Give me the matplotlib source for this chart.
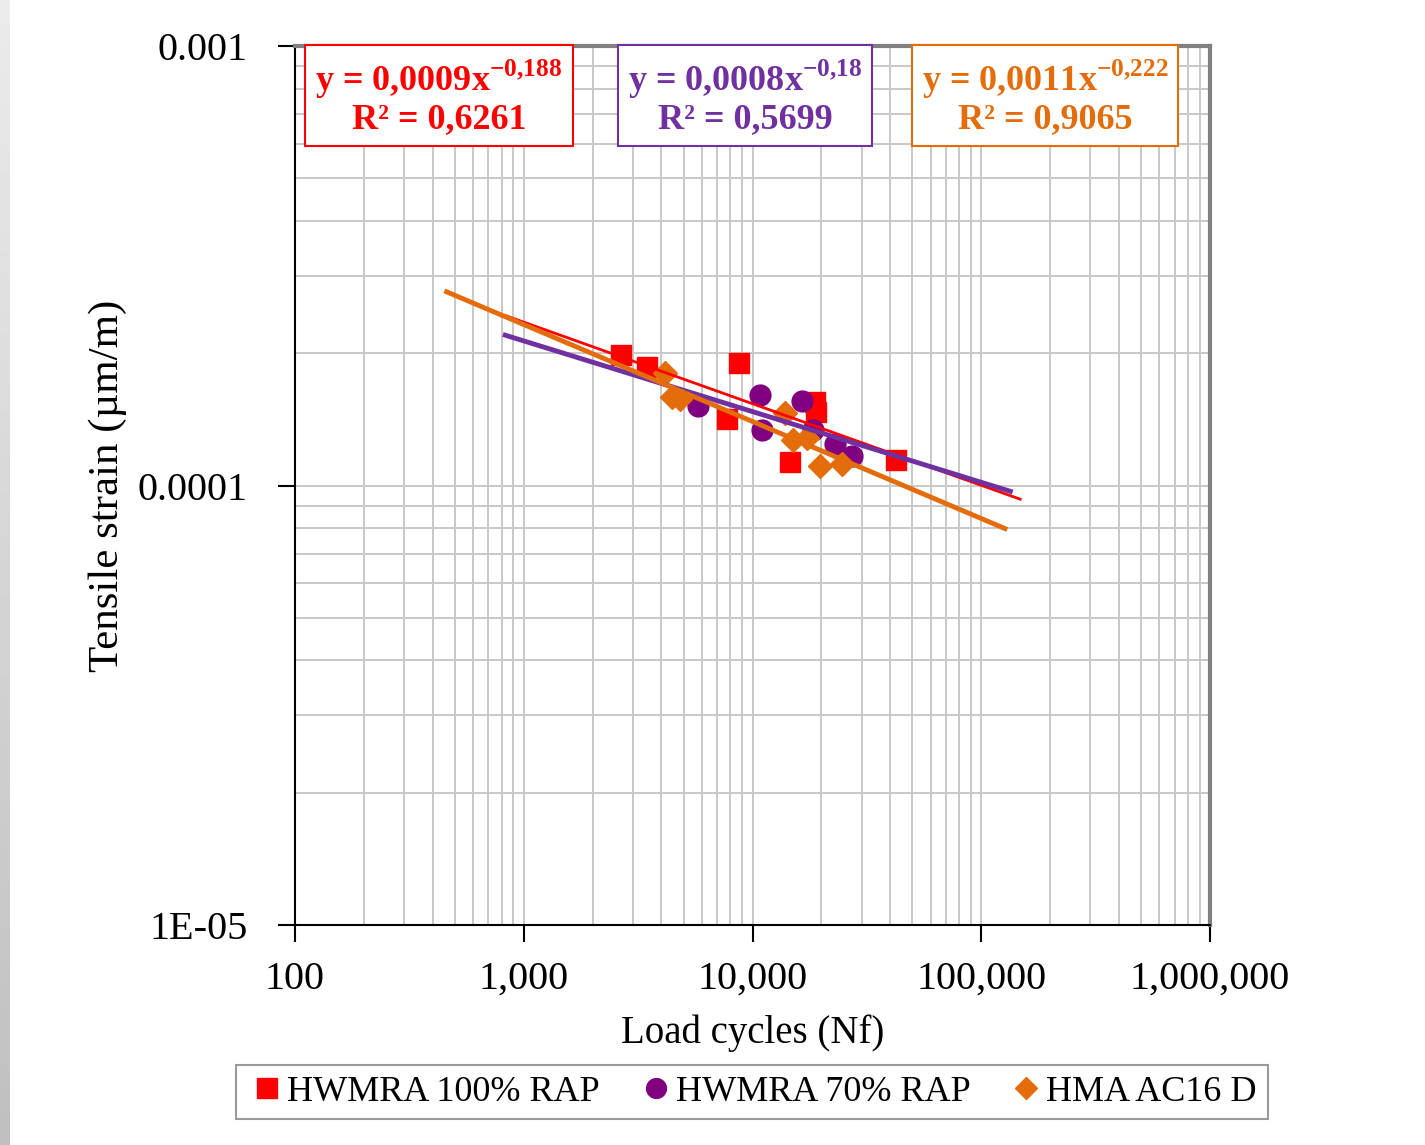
import numpy as np
import matplotlib
matplotlib.use('Agg')
import matplotlib.pyplot as plt
from matplotlib.ticker import FixedLocator, LogLocator, NullFormatter

plt.rcParams['font.family'] = ['Liberation Serif', 'DejaVu Serif']
plt.rcParams['mathtext.fontset'] = 'custom'
plt.rcParams['mathtext.rm'] = 'Liberation Serif'
plt.rcParams['mathtext.bf'] = 'Liberation Serif:bold'

# data
rap100_n = [2660, 3450, 8750, 7710, 14600, 18800, 19000, 42400]
rap100_eps = [1.98e-4, 1.86e-4, 1.90e-4, 1.415e-4, 1.13e-4, 1.55e-4, 1.47e-4, 1.14e-4]

rap70_n = [5800, 10800, 11000, 16400, 18400, 23000, 27200]
rap70_eps = [1.52e-4, 1.61e-4, 1.34e-4, 1.56e-4, 1.34e-4, 1.24e-4, 1.17e-4]

hma_n = [4150, 4440, 4820, 13900, 15000, 17300, 19700, 24600]
hma_eps = [1.80e-4, 1.59e-4, 1.57e-4, 1.46e-4, 1.27e-4, 1.28e-4, 1.11e-4, 1.12e-4]

# trendline extents (load cycles)
rap100_trend = (830, 148000)
rap70_trend = (830, 134000)
hma_trend = (460, 127000)

eq_texts = [r"y = 0,0009x$^{\mathbf{-0{,}188}}$" + "\n" + "R² = 0,6261",
            r"y = 0,0008x$^{\mathbf{-0{,}18}}$" + "\n" + "R² = 0,5699",
            r"y = 0,0011x$^{\mathbf{-0{,}222}}$" + "\n" + "R² = 0,9065"]

x_ticks = [100, 1000, 10000, 100000, 1000000]
x_labels = ["100", "1,000", "10,000", "100,000", "1,000,000"]
y_ticks = [1e-5, 1e-4, 1e-3]
y_labels = ["1E-05", "0.0001", "0.001"]

red = '#ff0000'
purple_m = '#800080'
purple_l = '#7030a0'
orange = '#e46c0a'

fig = plt.figure(figsize=(14.25, 11.45), dpi=100)

# gray strip at the left edge
strip = fig.add_axes([0, 0, 10 / 1425, 1])
strip.imshow(np.linspace(0.92, 0.75, 100).reshape(-1, 1), cmap='gray', vmin=0, vmax=1,
             aspect='auto', extent=[0, 1, 0, 1])
strip.axis('off')

ax = fig.add_axes([295 / 1425, 1 - 925 / 1145, 915 / 1425, 879 / 1145])
ax.set_xscale('log')
ax.set_yscale('log')
ax.set_xlim(100, 1e6)
ax.set_ylim(1e-5, 1e-3)

ax.grid(True, which='both', color='#c8c8c8', linewidth=1.4)
ax.set_axisbelow(True)

ax.plot(rap100_n, rap100_eps, 's', color=red, ms=15, ls='none', label='HWMRA 100% RAP', zorder=3)
ax.plot(rap70_n, rap70_eps, 'o', color=purple_m, ms=15, ls='none', label='HWMRA 70% RAP', zorder=3)
ax.plot(hma_n, hma_eps, 'D', color=orange, ms=12, ls='none', label='HMA AC16 D', zorder=3)


def power_trend(n, eps, ext):
    b, loga = np.polyfit(np.log(n), np.log(eps), 1)
    xs = np.logspace(np.log10(ext[0]), np.log10(ext[1]), 50)
    return xs, np.exp(loga) * xs ** b


xs, ys = power_trend(rap100_n, rap100_eps, rap100_trend)
ax.plot(xs, ys, color=red, lw=2, zorder=4)
xs, ys = power_trend(rap70_n, rap70_eps, rap70_trend)
ax.plot(xs, ys, color=purple_l, lw=3.5, zorder=4)
xs, ys = power_trend(hma_n, hma_eps, hma_trend)
ax.plot(xs, ys, color=orange, lw=3.5, zorder=4)

ax.xaxis.set_major_locator(FixedLocator(x_ticks))
ax.set_xticklabels(x_labels)
ax.yaxis.set_major_locator(FixedLocator(y_ticks))
ax.set_yticklabels(y_labels)
ax.xaxis.set_minor_locator(LogLocator(base=10, subs=np.arange(2, 10)))
ax.yaxis.set_minor_locator(LogLocator(base=10, subs=np.arange(2, 10)))
ax.xaxis.set_minor_formatter(NullFormatter())
ax.yaxis.set_minor_formatter(NullFormatter())
ax.tick_params(which='major', direction='out', length=12, width=1.5, labelsize=29)
ax.tick_params(axis='y', pad=22)
ax.tick_params(axis='x', pad=14)
ax.tick_params(which='minor', length=0)

for s in ['left', 'bottom']:
    ax.spines[s].set_color('black')
    ax.spines[s].set_linewidth(1.5)
for s in ['top', 'right']:
    ax.spines[s].set_color('#808080')
    ax.spines[s].set_linewidth(3)

ax.set_xlabel('Load cycles (Nf)', fontsize=28, labelpad=12)
ax.set_ylabel('Tensile strain (µm/m)', fontsize=31, labelpad=8)

for txt, xc, col in zip(eq_texts, [439, 745, 1045], [red, purple_l, orange]):
    fig.text(xc / 1425, 1 - 97 / 1145, txt, color=col, fontsize=26, fontweight='bold',
             ha='center', va='center', linespacing=1.1,
             bbox=dict(boxstyle='square,pad=0.28', fc='white', ec=col, lw=1.5))

leg = fig.legend(loc='center', bbox_to_anchor=(752 / 1425, 1 - 1092 / 1145), ncol=3,
                 fontsize=26, frameon=True, fancybox=False, edgecolor='#808080',
                 handletextpad=0.0, columnspacing=1.0, handlelength=1.1, borderpad=0.3,
                 markerscale=0.95)
leg.get_frame().set_linewidth(1.5)

fig.savefig('out.png', dpi=100)
